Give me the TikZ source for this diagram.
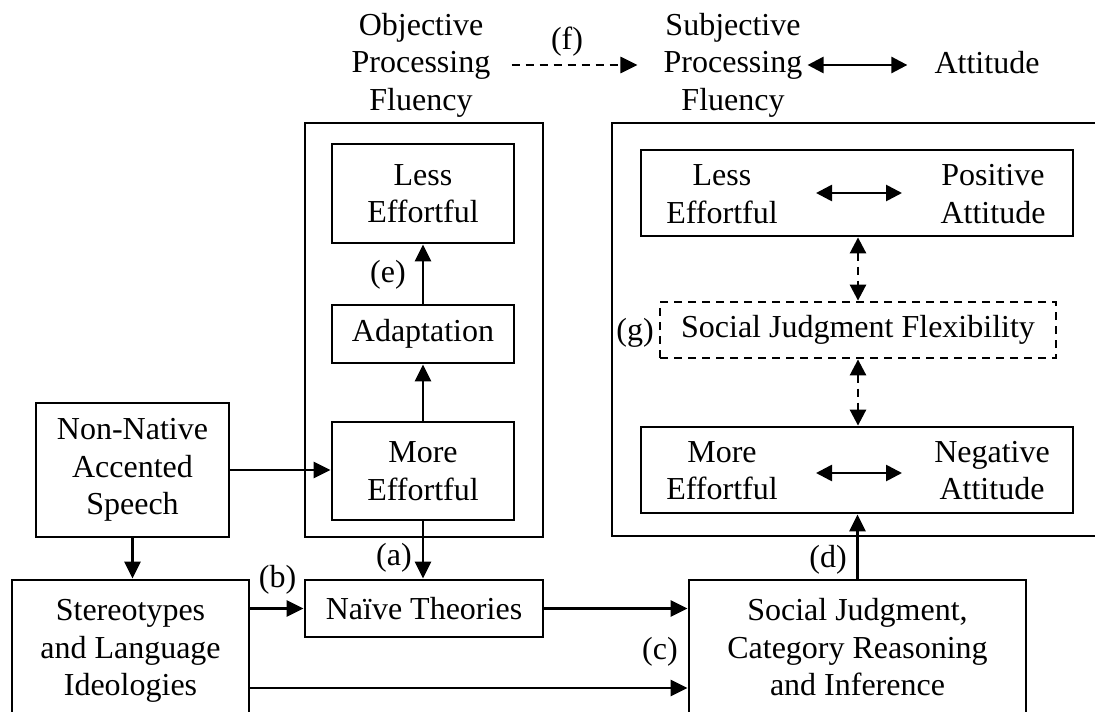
\documentclass[tikz,border=0pt]{standalone}
\usepackage{fontspec}
\setmainfont{Liberation Serif}
\usetikzlibrary{arrows.meta}
\begin{document}
\begin{tikzpicture}[x=1pt,y=-1pt,
  every node/.style={font=\fontsize{32}{37.5}\selectfont},
  box/.style={draw, line width=2.8pt, inner sep=0pt, align=center},
  txt/.style={inner sep=0pt, align=center},
  lbl/.style={inner sep=0pt},
  arr/.style={line width=2.7pt, -{Triangle[length=17pt,width=16pt]}},
  darr/.style={line width=2.7pt, {Triangle[length=16pt,width=16pt]}-{Triangle[length=16pt,width=16pt]}},
  dsh/.style={dash pattern=on 8pt off 6pt}
]
\clip (0,0) rectangle (1095,712);
% header
\node[txt] (obj) at (421,65) {Objective\\Processing\\Fluency};
\node[txt] (subj) at (733,65) {Subjective\\Processing\\Fluency};
\node[txt, anchor=base] (att) at (987,73) {Attitude};
\node[lbl] (lf) at (567,41.5) {(f)};
\draw[arr, dsh, shorten <=21pt, shorten >=26pt] (obj.east) -- (subj.west);
\draw[darr, shorten <=5pt, shorten >=27pt] (subj.east) -- (subj.east -| att.west);
% left column
\node[box, minimum width=193pt, minimum height=134pt] (nn) at (132.5,470) {Non-Native\\Accented\\Speech};
\node[box, minimum width=237pt, minimum height=142pt] (st) at (130.5,651) {Stereotypes\\and Language\\Ideologies};
\node[box, minimum width=238pt, minimum height=57pt] (nt) at (424,608.5) {Naïve Theories};
\node[box, minimum width=337pt, minimum height=135pt] (sj) at (857.5,647.5) {Social Judgment,\\Category Reasoning\\and Inference};
% objective fluency panel
\node[box, minimum width=238pt, minimum height=414pt] (ol) at (424,330) {};
\node[box, minimum width=182pt, minimum height=99pt] (le) at (423,193.5) {Less\\Effortful};
\node[box, minimum width=182pt, minimum height=58pt] (ad) at (423,334) {Adaptation};
\node[box, minimum width=182pt, minimum height=98pt] (me) at (423,471) {More\\Effortful};
% subjective fluency panel
\node[box, minimum width=498pt, minimum height=413pt] (or) at (861,329.5) {};
\node[box, minimum width=432pt, minimum height=86pt] (lp) at (857,193) {};
\node[txt] (lpl) at (722,194) {Less\\Effortful};
\node[txt] (lpr) at (993,194) {Positive\\Attitude};
\node[box, dsh, minimum width=396pt, minimum height=56pt] (sf) at (858,330) {Social Judgment Flexibility};
\node[box, minimum width=432pt, minimum height=86pt] (mn) at (857,470) {};
\node[txt] (mnl) at (722,470.5) {More\\Effortful};
\node[txt] (mnr) at (992,470.5) {Negative\\Attitude};
% labels
\node[lbl] (la) at (394,558) {(a)};
\node[lbl] (lb) at (277.5,580) {(b)};
\node[lbl] (lc) at (660,651.5) {(c)};
\node[lbl] (ld) at (828,560) {(d)};
\node[lbl] (le2) at (388,275) {(e)};
\node[lbl] (lg) at (635,333) {(g)};
% connectors
\draw[arr] (nn.east) -- (nn.east -| me.west);
\draw[arr] (nn.south) -- (nn.south |- st.north);
\draw[arr] (me.south) -- (me.south |- nt.north);
\draw[arr] (st.east |- nt.west) -- (nt.west);
\draw[arr] (nt.east) -- (nt.east -| sj.west);
\coordinate (sl) at ([yshift=-37pt]st.east);
\draw[arr] (sl) -- (sl -| sj.west);
\draw[arr] (sj.north) -- (sj.north |- mn.south);
\draw[arr] (me.north) -- (ad.south);
\draw[arr] (ad.north) -- (le.south);
\draw[darr, dsh] (lp.south -| sf.north) -- (sf.north);
\draw[darr, dsh] (sf.south) -- (sf.south |- mn.north);
\coordinate (pa) at ([xshift=-41pt]lp.center);
\coordinate (pb) at ([xshift=45pt]lp.center);
\draw[darr] (pa) -- (pb);
\coordinate (na) at ([xshift=-41pt,yshift=-3pt]mn.center);
\coordinate (nb) at ([xshift=45pt,yshift=-3pt]mn.center);
\draw[darr] (na) -- (nb);
\end{tikzpicture}
\end{document}
